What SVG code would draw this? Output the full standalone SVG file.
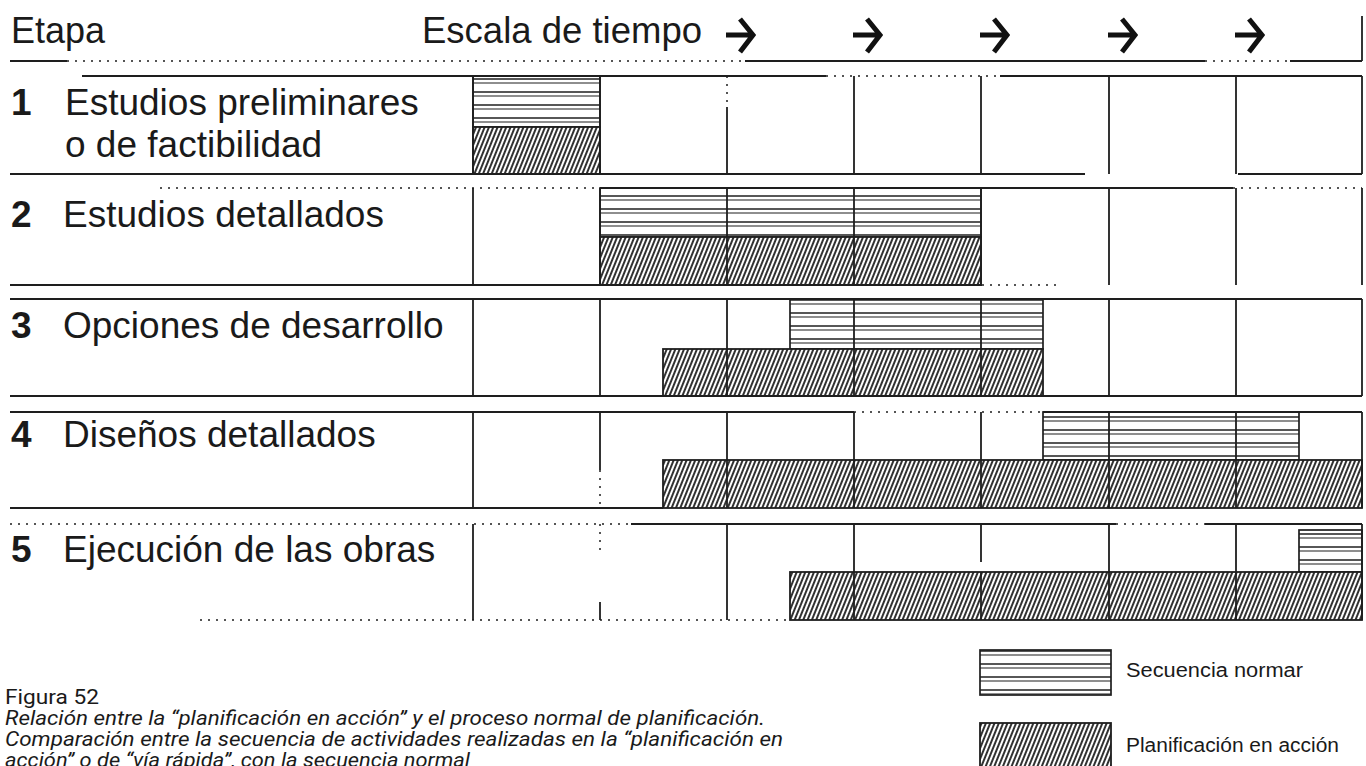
<svg xmlns="http://www.w3.org/2000/svg" width="1366" height="766" viewBox="0 0 1366 766">
<style>
.t{font-family:"Liberation Sans",Arial,sans-serif;fill:#1a1a1a}
.big{font-size:37px}
.num{font-size:37px;font-weight:bold}
.hd{font-size:36px}
.lg{font-size:19.5px}
.cap{font-family:Roboto,"Liberation Sans",sans-serif;font-size:19.5px;fill:#1a1a1a}
.ln{stroke:#1e1e1e;stroke-width:1.8;fill:none}
.dt{stroke:#1e1e1e;stroke-width:1.5;fill:none;stroke-dasharray:2 6}
.arw{stroke:#111;stroke-width:5;fill:none;stroke-linejoin:miter;stroke-linecap:butt}
.nrm{fill:url(#seq);stroke:#1e1e1e;stroke-width:1.7}
.hch{fill:url(#hatch);stroke:#1e1e1e;stroke-width:1.8}
</style>
<defs>
<pattern id="hatch" patternUnits="userSpaceOnUse" width="4" height="12" patternTransform="rotate(22)">
<rect width="4" height="12" fill="#fff"/>
<line x1="1" y1="-1" x2="1" y2="13" stroke="#1a1a1a" stroke-width="1.8"/>
</pattern>
<pattern id="seq" patternUnits="userSpaceOnUse" width="40" height="13">
<rect width="40" height="13" fill="#fff"/>
<line x1="0" y1="1" x2="40" y2="1" stroke="#1e1e1e" stroke-width="1.5"/>
<line x1="0" y1="5" x2="40" y2="5" stroke="#1e1e1e" stroke-width="1.2"/>
</pattern>
</defs>
<rect width="1366" height="766" fill="#fff"/>

<g id="header">
<text class="t hd" x="11" y="43">Etapa</text>
<text class="t hd" x="422" y="43" textLength="280" lengthAdjust="spacingAndGlyphs">Escala de tiempo</text>
<g id="arrows">
<path class="arw" d="M726 35 H752 M740 19 L753 35 L740 52"/>
<path class="arw" d="M853 35 H879 M867 19 L880 35 L867 52"/>
<path class="arw" d="M980 35 H1006 M994 19 L1007 35 L994 52"/>
<path class="arw" d="M1108 35 H1134 M1122 19 L1135 35 L1122 52"/>
<path class="arw" d="M1235 35 H1261 M1249 19 L1262 35 L1249 52"/>
</g>
</g>

<g id="row1">
<rect class="nrm" x="473" y="76" width="127" height="51"/>
<rect class="hch" x="473" y="127" width="127" height="47"/>
<text class="t num" x="11" y="115">1</text>
<text class="t big" x="65" y="115">Estudios preliminares</text>
<text class="t big" x="65" y="157">o de factibilidad</text>
</g>

<g id="row2">
<rect class="nrm" x="600" y="188" width="381" height="49"/>
<rect class="hch" x="600" y="237" width="381" height="48"/>
<text class="t num" x="11" y="227">2</text>
<text class="t big" x="63" y="227">Estudios detallados</text>
</g>

<g id="row3">
<rect class="nrm" x="790" y="299" width="253" height="50"/>
<rect class="hch" x="663" y="349" width="380" height="47"/>
<text class="t num" x="11" y="338">3</text>
<text class="t big" x="63" y="338">Opciones de desarrollo</text>
</g>

<g id="row4">
<rect class="nrm" x="1043" y="412" width="256" height="48"/>
<rect class="hch" x="663" y="460" width="699" height="48"/>
<text class="t num" x="11" y="447">4</text>
<text class="t big" x="63" y="447">Diseños detallados</text>
</g>

<g id="row5">
<rect class="nrm" x="1299" y="530" width="63" height="42"/>
<rect class="hch" x="790" y="572" width="572" height="48"/>
<text class="t num" x="11" y="562">5</text>
<text class="t big" x="63" y="562">Ejecución de las obras</text>
</g>

<g id="connectors">
<line class="ln" x1="10" y1="61" x2="67" y2="61"/>
<line class="dt" x1="67" y1="61" x2="745" y2="61"/>
<line class="ln" x1="745" y1="61" x2="1205" y2="61"/>
<line class="dt" x1="1205" y1="61" x2="1290" y2="61"/>
<line class="ln" x1="1290" y1="61" x2="1362" y2="61"/>
<line class="ln" x1="1362" y1="16" x2="1362" y2="61"/>
<line class="ln" x1="82" y1="76" x2="826" y2="76"/>
<line class="dt" x1="826" y1="76" x2="1000" y2="76"/>
<line class="ln" x1="1000" y1="76" x2="1362" y2="76"/>
<line class="ln" x1="10" y1="174" x2="1085" y2="174"/>
<line class="ln" x1="1238" y1="174" x2="1362" y2="174"/>
<path class="ln" d="M473 76V174M600 76V174M854 76V174M981 76V174M1109 76V174M1236 76V174M1362 76V174M727 107V174"/>
<line class="dt" x1="727" y1="76" x2="727" y2="102"/>
<line class="dt" x1="160" y1="188" x2="600" y2="188"/>
<line class="ln" x1="600" y1="188" x2="1233" y2="188"/>
<line class="dt" x1="1233" y1="188" x2="1362" y2="188"/>
<line class="ln" x1="10" y1="285" x2="982" y2="285"/>
<line class="dt" x1="982" y1="285" x2="1060" y2="285"/>
<path class="ln" d="M473 188V285M600 188V285M727 188V285M854 188V285M981 188V285M1109 188V285M1236 188V285M1362 188V285"/>
<line class="ln" x1="10" y1="299" x2="1362" y2="299"/>
<line class="ln" x1="10" y1="396" x2="1362" y2="396"/>
<path class="ln" d="M473 299V396M600 299V396M727 299V396M854 299V396M981 299V396M1109 299V396M1236 299V396M1362 299V396"/>
<line class="ln" x1="10" y1="412" x2="854" y2="412"/>
<line class="dt" x1="854" y1="412" x2="1043" y2="412"/>
<line class="ln" x1="1043" y1="412" x2="1362" y2="412"/>
<line class="ln" x1="10" y1="508" x2="663" y2="508"/>
<path class="ln" d="M473 412V508M600 412V470M727 412V508M854 412V508M981 412V508M1109 412V508M1236 412V508M1362 412V508"/>
<line class="dt" x1="600" y1="470" x2="600" y2="508"/>
<line class="dt" x1="10" y1="524" x2="631" y2="524"/>
<line class="ln" x1="631" y1="524" x2="1116" y2="524"/>
<line class="dt" x1="1116" y1="524" x2="1205" y2="524"/>
<line class="ln" x1="1205" y1="524" x2="1362" y2="524"/>
<line class="dt" x1="200" y1="620" x2="790" y2="620"/>
<path class="ln" d="M473 524V620M727 524V620M854 524V620M981 524V562M981 572V620M1109 524V620M1236 524V620M1362 524V620M600 602V620"/>
<line class="dt" x1="600" y1="524" x2="600" y2="550"/>
</g>

<g id="legend">
<rect class="nrm" x="980" y="650" width="131" height="45"/>
<rect class="hch" x="980" y="723" width="131" height="47"/>
<text class="t lg" x="1126" y="677" textLength="177" lengthAdjust="spacingAndGlyphs">Secuencia normar</text>
<text class="t lg" x="1126" y="752" textLength="213" lengthAdjust="spacingAndGlyphs">Planificación en acción</text>
</g>

<g id="caption">
<text class="cap" x="5" y="704" textLength="94" lengthAdjust="spacingAndGlyphs">Figura 52</text>
<text class="cap" x="5" y="725" font-style="italic" textLength="760" lengthAdjust="spacingAndGlyphs">Relación entre la “planificación en acción” y el proceso normal de planificación.</text>
<text class="cap" x="5" y="746" font-style="italic" textLength="778" lengthAdjust="spacingAndGlyphs">Comparación entre la secuencia de actividades realizadas en la “planificación en</text>
<text class="cap" x="5" y="767" font-style="italic" textLength="465" lengthAdjust="spacingAndGlyphs">acción” o de “vía rápida”, con la secuencia normal</text>
</g>
</svg>
